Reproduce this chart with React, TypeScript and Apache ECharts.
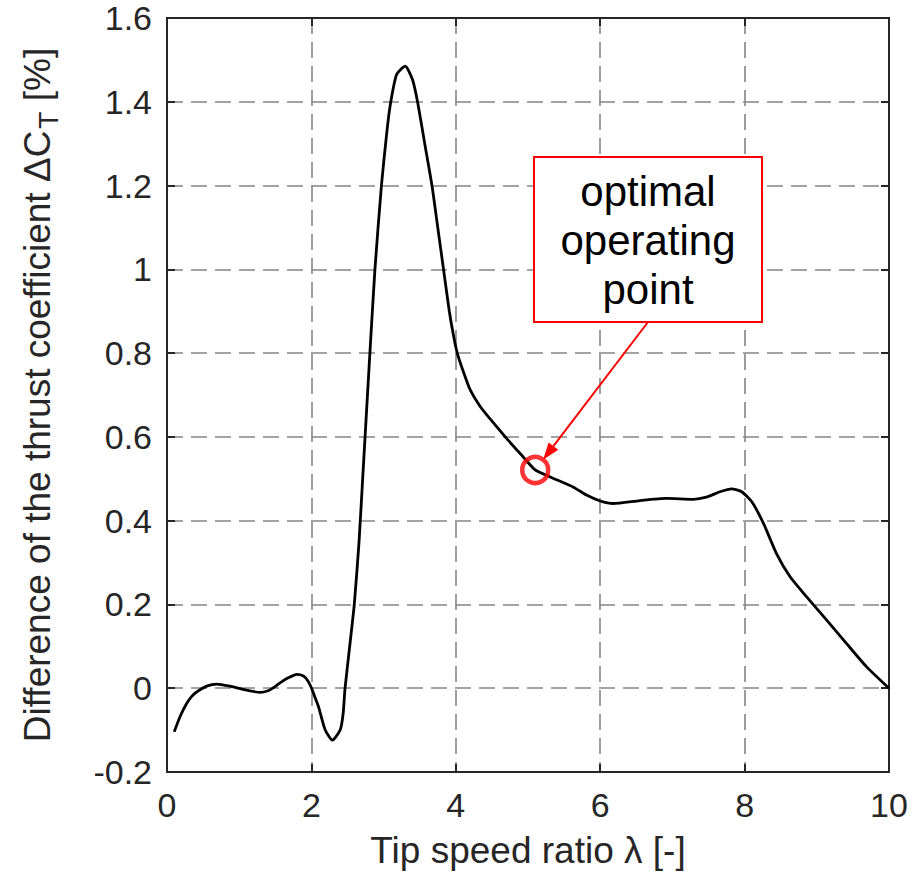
import React, { useEffect, useRef } from "react";
import * as echarts from "echarts";

// Tip speed ratio (x) and difference of thrust coefficient in % (y)
const lambdaValues = [
  0.1, 0.18, 0.27, 0.34, 0.41, 0.55, 0.69, 0.87, 1.06, 1.29, 1.4, 1.47, 1.56, 1.66, 1.8, 1.89, 1.95, 2.0,
  2.05, 2.1, 2.19, 2.29, 2.4, 2.44, 2.466, 2.535, 2.594, 2.66, 2.71, 2.76, 2.81, 2.88, 2.97, 3.04, 3.09,
  3.18, 3.3, 3.4, 3.47, 3.57, 3.67, 3.75, 3.83, 3.91, 3.97, 4.02, 4.1, 4.2, 4.34, 4.47, 4.7, 4.93, 5.1,
  5.3, 5.63, 5.81, 6.0, 6.18, 6.55, 6.92, 7.29, 7.47, 7.66, 7.82, 7.96, 8.1, 8.26, 8.44, 8.63, 8.86,
  9.14, 9.41, 9.69, 10.0,
];
const deltaCt = [
  -0.104, -0.068, -0.037, -0.02, -0.009, 0.005, 0.01, 0.005, -0.003, -0.01, -0.006, 0.001, 0.012, 0.023,
  0.033, 0.029, 0.018, 0.001, -0.022, -0.045, -0.099, -0.124, -0.099, -0.06, 0.0, 0.107, 0.2, 0.35, 0.5,
  0.65, 0.8, 1.0, 1.2, 1.32, 1.39, 1.465, 1.485, 1.453, 1.4, 1.3, 1.2, 1.1, 1.0, 0.9, 0.84, 0.8, 0.758,
  0.712, 0.672, 0.644, 0.597, 0.553, 0.521, 0.505, 0.48, 0.461, 0.447, 0.441, 0.448, 0.453, 0.451, 0.456,
  0.469, 0.476, 0.469, 0.445, 0.394, 0.322, 0.266, 0.218, 0.162, 0.107, 0.051, 0.0,
];

// Optimal operating point
const optimalPoint = [5.1, 0.521];
const annotationLines = ["optimal", "operating", "point"];

// Axes
const xMin = 0;
const xMax = 10;
const xInterval = 2;
const yMin = -0.2;
const yMax = 1.6;
const yInterval = 0.2;

const FONT = "'Liberation Sans', Arial, Helvetica, sans-serif";
const AXIS_COLOR = "#262626";

export default function App() {
  const ref = useRef<HTMLDivElement>(null);

  useEffect(() => {
    document.body.style.margin = "0";
    if (!ref.current) return;
    const chart = echarts.init(ref.current, undefined, { renderer: "svg" });

    const axisLine = { show: true, onZero: false, lineStyle: { color: AXIS_COLOR, width: 2 } };
    const axisTick = { show: true, inside: true, length: 8, lineStyle: { color: AXIS_COLOR, width: 2 } };
    const splitLine = {
      show: true,
      lineStyle: { color: "#858585", width: 1.6, type: [16, 8] as any },
    };

    const data = lambdaValues.map((x, i) => [x, deltaCt[i]]);

    chart.setOption({
      animation: false,
      backgroundColor: "#ffffff",
      grid: { left: 167, right: 26, top: 18, bottom: 103, containLabel: false },
      xAxis: [
        {
          type: "value",
          min: xMin,
          max: xMax,
          interval: xInterval,
          position: "bottom",
          axisLine,
          axisTick,
          splitLine,
          axisLabel: { show: true, margin: 16, fontSize: 34, color: AXIS_COLOR, fontFamily: FONT },
          name: "Tip speed ratio λ [-]",
          nameLocation: "middle",
          nameGap: 60,
          nameTextStyle: { fontSize: 37, color: AXIS_COLOR, fontFamily: FONT },
        },
        {
          type: "value",
          min: xMin,
          max: xMax,
          interval: xInterval,
          position: "top",
          axisLine,
          axisTick,
          splitLine: { show: false },
          axisLabel: { show: false },
        },
      ],
      yAxis: [
        {
          type: "value",
          min: yMin,
          max: yMax,
          interval: yInterval,
          position: "left",
          axisLine,
          axisTick,
          splitLine,
          axisLabel: {
            show: true,
            margin: 15,
            fontSize: 34,
            color: AXIS_COLOR,
            fontFamily: FONT,
            formatter: (v: number) => String(Math.round(v * 10) / 10),
          },
          name: "Difference of the thrust coefficient ΔC{sub|T} [%]",
          nameLocation: "middle",
          nameGap: 105,
          nameTextStyle: {
            fontSize: 37,
            color: AXIS_COLOR,
            fontFamily: FONT,
            rich: {
              sub: { fontSize: 28, color: AXIS_COLOR, fontFamily: FONT, padding: [22, 0, 0, 2] },
            },
          },
        },
        {
          type: "value",
          min: yMin,
          max: yMax,
          interval: yInterval,
          position: "right",
          axisLine,
          axisTick,
          splitLine: { show: false },
          axisLabel: { show: false },
        },
      ],
      series: [
        {
          type: "line",
          data,
          xAxisIndex: 0,
          yAxisIndex: 0,
          showSymbol: false,
          symbol: "none",
          smooth: 0.2,
          lineStyle: { color: "#000000", width: 2.8 },
          z: 3,
        },
        {
          type: "scatter",
          data: [optimalPoint],
          xAxisIndex: 0,
          yAxisIndex: 0,
          symbol: "circle",
          symbolSize: 26,
          itemStyle: { color: "rgba(0,0,0,0)", borderColor: "#ff0000", borderWidth: 4.5 },
          z: 5,
        },
      ],
    });

    // Annotation box and arrow
    const boxX = 534;
    const boxY = 157;
    const boxW = 228;
    const boxH = 165;
    const start = [boxX + boxW / 2, boxY + boxH];
    const p = chart.convertToPixel({ gridIndex: 0 }, optimalPoint) as number[];
    const dx = p[0] - start[0];
    const dy = p[1] - start[1];
    const len = Math.sqrt(dx * dx + dy * dy);
    const ux = dx / len;
    const uy = dy / len;
    const tip = [p[0] - ux * 13, p[1] - uy * 13];
    const headLen = 17;
    const headHalf = 6;
    const base = [tip[0] - ux * headLen, tip[1] - uy * headLen];
    const nx = -uy;
    const ny = ux;

    chart.setOption({
      graphic: [
        {
          type: "rect",
          z: 20,
          shape: { x: boxX, y: boxY, width: boxW, height: boxH },
          style: { fill: "#ffffff", stroke: "#ff0000", lineWidth: 2 },
        },
        {
          type: "text",
          z: 21,
          x: boxX + boxW / 2,
          y: boxY + boxH / 2 + 1,
          style: {
            text: annotationLines.join("\n"),
            fontSize: 42,
            fontFamily: FONT,
            lineHeight: 49,
            fill: "#000000",
            textAlign: "center",
            textVerticalAlign: "middle",
          },
        },
        {
          type: "line",
          z: 21,
          shape: { x1: start[0], y1: start[1], x2: base[0], y2: base[1] },
          style: { stroke: "#ff0000", lineWidth: 2 },
        },
        {
          type: "polygon",
          z: 21,
          shape: {
            points: [
              [tip[0], tip[1]],
              [base[0] + nx * headHalf, base[1] + ny * headHalf],
              [base[0] - nx * headHalf, base[1] - ny * headHalf],
            ],
          },
          style: { fill: "#ff0000" },
        },
      ],
    });

    return () => chart.dispose();
  }, []);

  return <div ref={ref} style={{ width: 915, height: 875 }} />;
}
